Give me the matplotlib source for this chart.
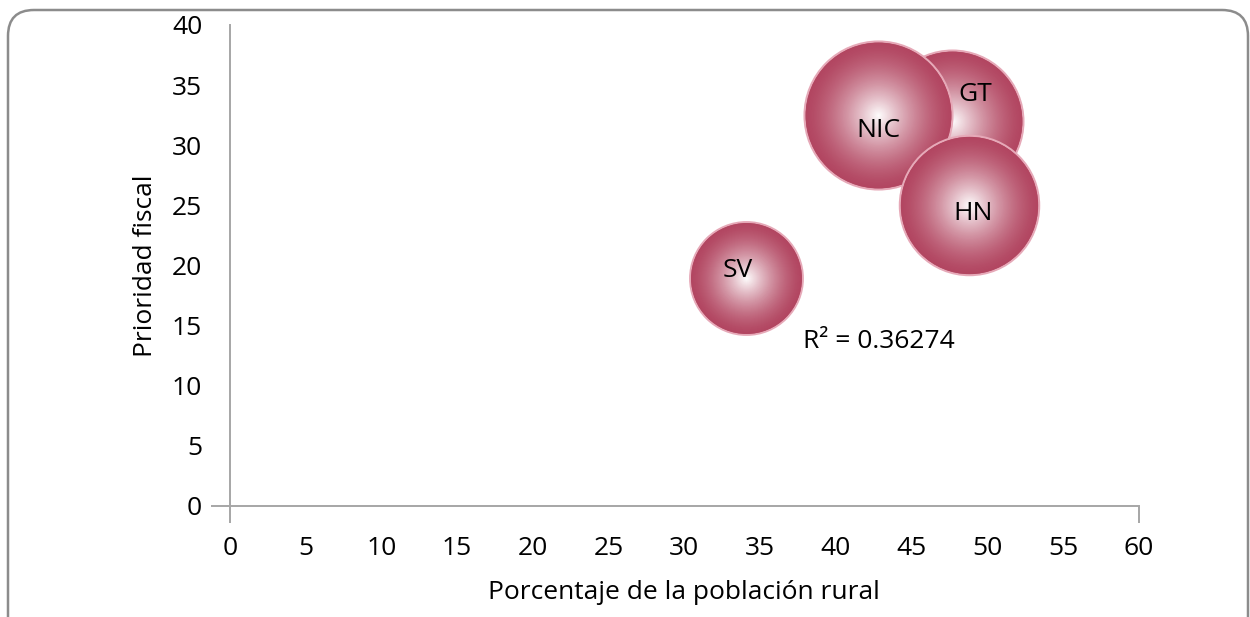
import numpy as np
import matplotlib
matplotlib.use("Agg")
import matplotlib.pyplot as plt
from matplotlib.patches import FancyBboxPatch
from matplotlib.transforms import IdentityTransform

plt.rcParams["font.family"] = ["Open Sans", "DejaVu Sans"]

# datos (orden de dibujo: los de atras primero)
paises = ["GT", "NIC", "HN", "SV"]
rural = [47.7, 42.8, 48.8, 34.1]          # Porcentaje de la poblacion rural
prioridad = [32.0, 32.5, 25.0, 18.95]     # Prioridad fiscal
tamano = [57, 62, 55, 36]                 # tamano de burbuja
r2_texto = "R² = 0.36274"

xticks = list(range(0, 61, 5))
yticks = list(range(0, 41, 5))

fig = plt.figure(figsize=(12.5, 6.17), dpi=100)
ax = fig.add_axes([0.184, 0.18, 0.727, 0.7795])

borde = np.array([178, 70, 97]) / 255.0
blanco = np.array([1.0, 1.0, 1.0])

# escala de burbuja: la mayor con radio ~74 px
r_max_px = 74
s_max = (2 * r_max_px * 72 / 100) ** 2
factor = s_max / max(tamano)

N = 60
for p, x, y, t in zip(paises, rural, prioridad, tamano):
    s = t * factor
    # contorno claro
    ax.scatter(x, y, s=s, color=borde, edgecolors="#E6A9B8", linewidths=1.5)
    # degradado radial con circulos concentricos
    for i in range(1, N):
        f = i / N
        w = f ** 1.5
        c = borde * (1 - w) + blanco * w
        ax.scatter(x, y, s=s * (1 - f) ** 2, color=c, linewidths=0)

# etiquetas de las burbujas
offsets = {"GT": (23, 27), "NIC": (0, -15), "HN": (4, -8), "SV": (-9, 8)}
for p, x, y in zip(paises, rural, prioridad):
    ax.annotate(p, (x, y), xytext=offsets[p], textcoords="offset pixels",
                ha="center", va="center", fontsize=19, color="black")

ax.text(37.8, 13.7, r2_texto, fontsize=19, ha="left", va="center")

ax.set_xlim(0, 60)
ax.set_ylim(0, 40)
ax.set_xticks(xticks)
ax.set_yticks(yticks)
ax.tick_params(axis="both", length=0, labelsize=19)
ax.tick_params(axis="x", pad=22)
ax.tick_params(axis="y", pad=20)
ax.xaxis.remove_overlapping_locs = False
ax.yaxis.remove_overlapping_locs = False
ax.set_xticks([0, 60], minor=True)
ax.set_yticks([0], minor=True)
ax.tick_params(axis="x", which="minor", length=12, width=1.4, color="#A6A6A6", direction="out")
ax.tick_params(axis="y", which="minor", length=14, width=1.4, color="#A6A6A6", direction="out")

for lado in ["top", "right"]:
    ax.spines[lado].set_visible(False)
for lado in ["left", "bottom"]:
    ax.spines[lado].set_color("#A6A6A6")
    ax.spines[lado].set_linewidth(1.4)

ax.set_xlabel("Porcentaje de la población rural", fontsize=19, labelpad=13)
ax.set_ylabel("Prioridad fiscal", fontsize=19, labelpad=10)

# marco redondeado del grafico
marco = FancyBboxPatch((8, -30), 1240, 637,
                       boxstyle="round,pad=0,rounding_size=26",
                       transform=IdentityTransform(), fill=False,
                       edgecolor="#8C8C8C", linewidth=1.8)
fig.add_artist(marco)

fig.savefig("out.png", dpi=100)
